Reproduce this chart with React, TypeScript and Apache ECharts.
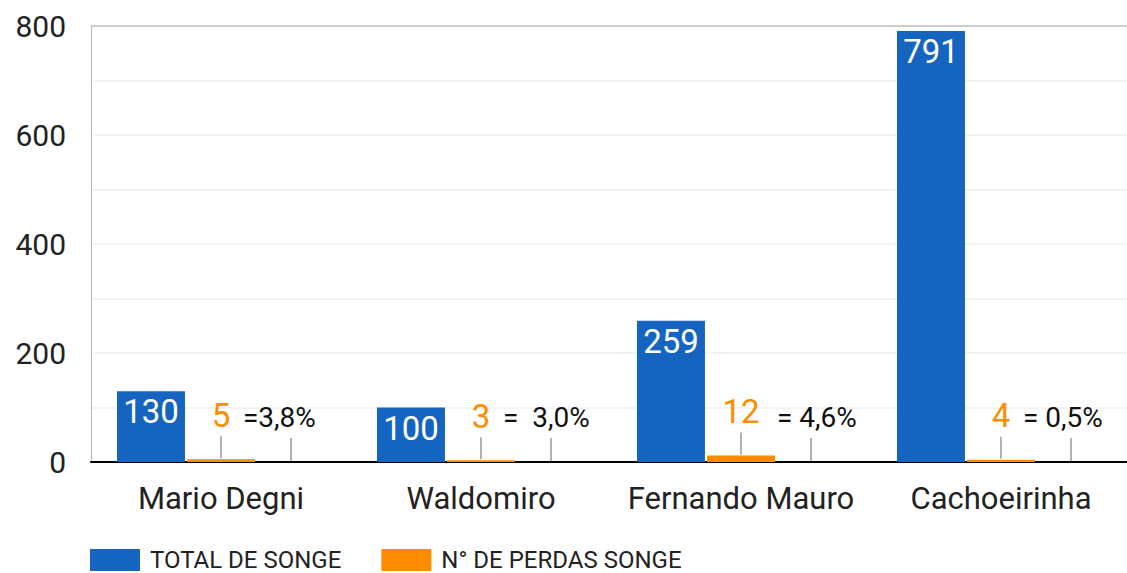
import React, { useEffect, useRef } from "react";
import * as echarts from "echarts";

const categories = ["Mario Degni", "Waldomiro", "Fernando Mauro", "Cachoeirinha"];
const totals = [130, 100, 259, 791];
const losses = [5, 3, 12, 4];
const pctValues = [0.038, 0.03, 0.046, 0.005];
const pctLabels = ["=3,8%", "=  3,0%", "  = 4,6%", "= 0,5%"];
const yTicks = [0, 200, 400, 600, 800];

const BLUE = "#1565c0";
const ORANGE = "#ff8c00";
const FONT = "Roboto";

export default function App() {
  const ref = useRef<HTMLDivElement>(null);
  useEffect(() => {
    if (!ref.current) return;
    const chart = echarts.init(ref.current, null, { renderer: "svg" });
    const gridColors = ["#efefef", "#efefef", "#efefef", "#efefef", "#efefef", "#efefef", "#efefef", "#efefef", "#bdbdbd"];
    chart.setOption({
      animation: false,
      grid: { left: 91, top: 26, width: 1040, height: 436 },
      legend: {
        data: ["TOTAL DE SONGE", "N° DE PERDAS SONGE"],
        left: 90,
        top: 548,
        padding: 0,
        itemWidth: 50,
        itemHeight: 22,
        itemGap: 40,
        icon: "rect",
        textStyle: { fontFamily: FONT, fontSize: 24, lineHeight: 20, color: "#222", padding: [0, 0, 0, 5] },
      },
      xAxis: {
        type: "category",
        data: categories,
        axisLine: { lineStyle: { color: "#000", width: 2 } },
        axisTick: { show: false },
        axisLabel: { interval: 0, fontFamily: FONT, fontSize: 31, color: "#222", margin: 21 },
      },
      yAxis: {
        type: "value",
        min: 0,
        max: 800,
        interval: 100,
        axisLine: { show: true, lineStyle: { color: "#b7b7b7", width: 1 } },
        axisTick: { show: false },
        axisLabel: {
          fontFamily: FONT,
          fontSize: 30,
          color: "#222",
          margin: 25,
          formatter: (v: number) => (yTicks.includes(v) ? String(v) : ""),
        },
        splitLine: { lineStyle: { color: gridColors, width: 1.5 } },
      },
      series: [
        {
          name: "TOTAL DE SONGE",
          type: "bar",
          data: totals,
          barWidth: 68,
          barGap: "3%",
          itemStyle: { color: BLUE },
          label: {
            show: true,
            position: "insideTop",
            distance: 4,
            color: "#fff",
            fontFamily: FONT,
            fontSize: 33,
          },
        },
        {
          name: "N° DE PERDAS SONGE",
          type: "bar",
          data: losses,
          barWidth: 68,
          barGap: "3%",
          itemStyle: { color: ORANGE },
        },
        {
          name: "PERCENTUAL",
          type: "bar",
          data: pctValues,
          barWidth: 68,
          barGap: "3%",
          itemStyle: { color: "#999" },
        },
        {
          name: "anotacoes",
          type: "custom",
          z: 10,
          data: categories.map((_, i) => [i, losses[i], i]),
          renderItem: (params: any, api: any) => {
            const i = api.value(0);
            const v = api.value(1);
            const k = api.value(2);
            const top = api.coord([i, v]);
            const base = api.coord([i, 0]);
            const x = top[0];
            const x2 = x + 70;
            return {
              type: "group",
              children: [
                {
                  type: "line",
                  shape: { x1: x, y1: top[1] - 1, x2: x, y2: top[1] - 23 },
                  style: { stroke: "#999", lineWidth: 1.5 },
                },
                {
                  type: "text",
                  x: x,
                  y: top[1] - 44,
                  style: {
                    text: String(v),
                    fill: ORANGE,
                    fontFamily: FONT,
                    fontSize: 33,
                    align: "center",
                    verticalAlign: "middle",
                  },
                },
                {
                  type: "line",
                  shape: { x1: x2, y1: base[1] - 1, x2: x2, y2: base[1] - 24 },
                  style: { stroke: "#999", lineWidth: 1.5 },
                },
                {
                  type: "text",
                  x: x2 - 48,
                  y: base[1] - 45,
                  style: {
                    text: pctLabels[k],
                    fill: "#111",
                    fontFamily: FONT,
                    fontSize: 28,
                    align: "left",
                    verticalAlign: "middle",
                  },
                },
              ],
            };
          },
        },
      ],
    });
    return () => chart.dispose();
  }, []);
  return (
    <div style={{ position: "fixed", left: 0, top: 0, width: 1127, height: 573, overflow: "hidden", background: "#fff" }}>
      <div ref={ref} style={{ width: 1140, height: 573 }} />
    </div>
  );
}
